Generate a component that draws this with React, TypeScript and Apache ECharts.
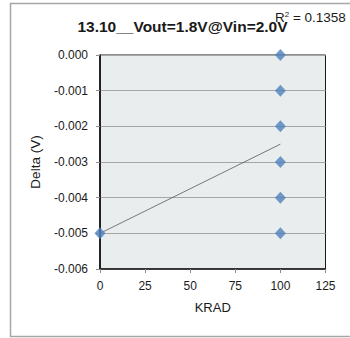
import React, { useEffect, useRef } from "react";
import * as echarts from "echarts";

// Irradiation dose (KRAD) and output voltage shift (V)
const doseKrad: number[] = [0, 100, 100, 100, 100, 100, 100];
const deltaV: number[] = [-0.005, 0.0, -0.001, -0.002, -0.003, -0.004, -0.005];

const xTicks = { min: 0, max: 125, interval: 25 };
const yTicks = { min: -0.006, max: 0, interval: 0.001 };

const titleText = "13.10__Vout=1.8V@Vin=2.0V";
const rSquaredText = "0.1358";

// least-squares fit over the measured points
function linearFit(xs: number[], ys: number[]) {
  const n = xs.length;
  const mx = xs.reduce((a, b) => a + b, 0) / n;
  const my = ys.reduce((a, b) => a + b, 0) / n;
  let sxy = 0;
  let sxx = 0;
  for (let i = 0; i < n; i++) {
    sxy += (xs[i] - mx) * (ys[i] - my);
    sxx += (xs[i] - mx) * (xs[i] - mx);
  }
  const slope = sxy / sxx;
  return { slope, intercept: my - slope * mx };
}

export default function App() {
  const ref = useRef<HTMLDivElement>(null);

  useEffect(() => {
    if (!ref.current) return;
    const chart = echarts.init(ref.current, null, { renderer: "svg" });
    const fit = linearFit(doseKrad, deltaV);
    const xLo = Math.min(...doseKrad);
    const xHi = Math.max(...doseKrad);
    const trend = [
      [xLo, fit.intercept + fit.slope * xLo],
      [xHi, fit.intercept + fit.slope * xHi],
    ];
    const font = "Liberation Sans, Arial, sans-serif";

    chart.setOption({
      animation: false,
      backgroundColor: "#ffffff",
      textStyle: { fontFamily: font },
      grid: {
        left: 100,
        right: 24.5,
        top: 55,
        bottom: 69,
        show: true,
        backgroundColor: "#E9EDED",
        borderColor: "#1a1a1a",
        borderWidth: 1,
      },
      xAxis: {
        type: "value",
        min: xTicks.min,
        max: xTicks.max,
        interval: xTicks.interval,
        name: "KRAD",
        nameLocation: "middle",
        nameGap: 32,
        nameTextStyle: { fontSize: 13, color: "#1a1a1a", fontFamily: font },
        axisLine: { show: true, onZero: false, lineStyle: { color: "#1a1a1a", width: 1.5 } },
        axisTick: { show: true, inside: false, length: 4, lineStyle: { color: "#8c8c8c" } },
        axisLabel: { fontSize: 12, color: "#1a1a1a", margin: 11, fontFamily: font },
        splitLine: { show: false },
      },
      yAxis: {
        type: "value",
        min: yTicks.min,
        max: yTicks.max,
        interval: yTicks.interval,
        name: "Delta (V)",
        nameLocation: "middle",
        nameGap: 58,
        nameRotate: 90,
        nameTextStyle: { fontSize: 13.5, color: "#1a1a1a", fontFamily: font },
        axisLine: { show: true, onZero: false, lineStyle: { color: "#000000", width: 1.5 } },
        axisTick: { show: true, inside: false, length: 4, lineStyle: { color: "#8c8c8c" } },
        axisLabel: {
          fontSize: 12,
          color: "#1a1a1a",
          margin: 12,
          fontFamily: font,
          formatter: (v: number) => v.toFixed(3),
        },
        splitLine: { show: true, lineStyle: { color: "#A6A6A6", width: 1 } },
      },
      graphic: [
        {
          type: "rect",
          silent: true,
          shape: { x: 10.5, y: 3.5, width: 350, height: 333 },
          style: { fill: "none", stroke: "#A6A6A6", lineWidth: 1.5 },
        },
        {
          type: "text",
          x: 182.5,
          y: 26.5,
          style: {
            text: titleText,
            fontFamily: font,
            fontSize: 15.5,
            fontWeight: "bold",
            fill: "#1a1a1a",
            align: "center",
            verticalAlign: "middle",
          },
        },
        {
          type: "text",
          x: 275,
          y: 17,
          style: {
            text: "{r|R}{s|2}{r| = " + rSquaredText + "}",
            fontFamily: font,
            align: "left",
            verticalAlign: "middle",
            rich: {
              r: { fontSize: 13.5, fill: "#1a1a1a", fontFamily: font },
              s: { fontSize: 8, fill: "#1a1a1a", fontFamily: font, verticalAlign: "top", padding: [0, 0, 6, 0] },
            },
          },
        },
      ],
      series: [
        {
          type: "line",
          data: trend,
          symbol: "none",
          lineStyle: { color: "#595959", width: 0.8 },
          silent: true,
          z: 2,
        },
        {
          type: "scatter",
          data: doseKrad.map((x, i) => [x, deltaV[i]]),
          symbol: "diamond",
          symbolSize: [11, 12],
          itemStyle: { color: "#4F81BD" },
          z: 3,
        },
      ],
    });

    return () => chart.dispose();
  }, []);

  return (
    <div
      ref={ref}
      style={{ position: "fixed", left: 0, top: 0, width: 350, height: 338 }}
    />
  );
}
